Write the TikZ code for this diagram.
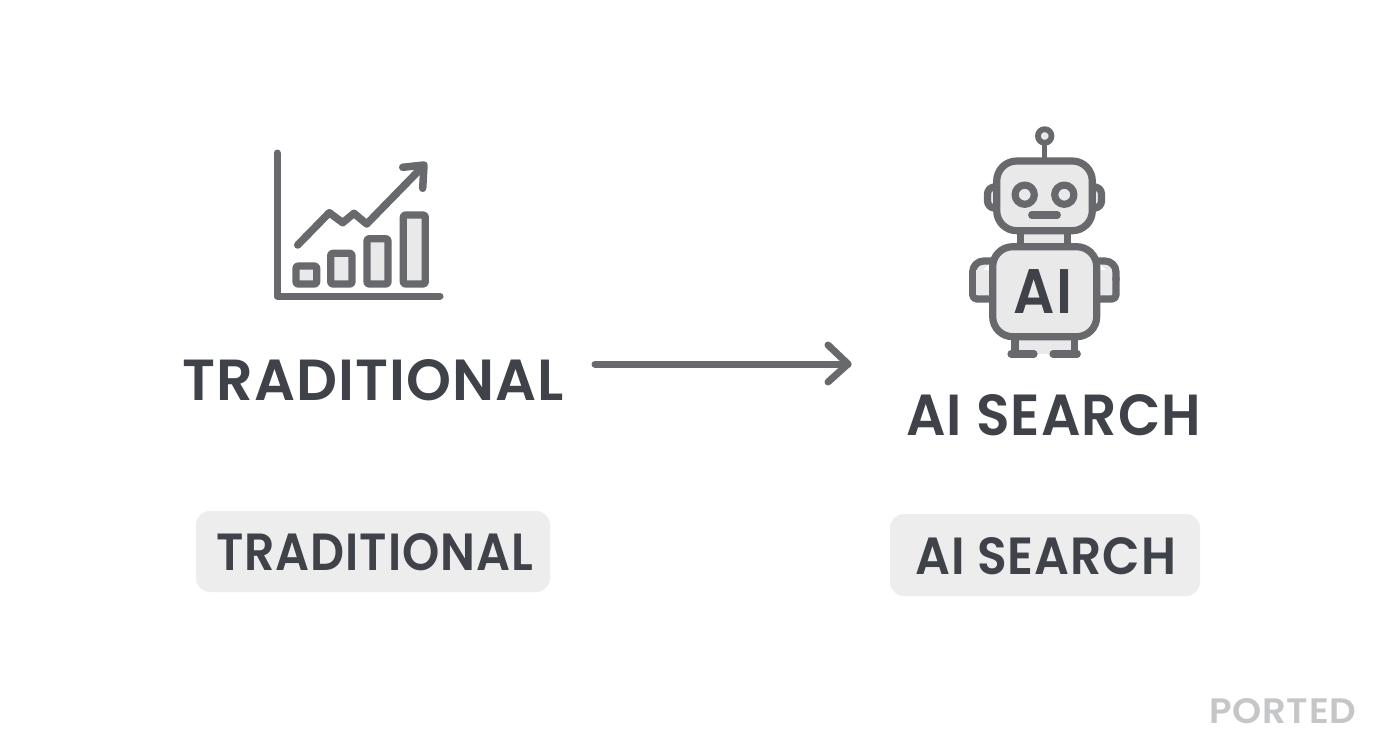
\documentclass[tikz,border=0pt]{standalone}
\usepackage{fontspec}
\usepackage{graphicx}
\newfontfamily\hd[UprightFont={* SemiBold},LetterSpace=2]{Poppins}
\newcommand{\fitt}[3]{\resizebox{#1pt}{#2pt}{\hd #3}}
\definecolor{ink}{HTML}{3F4248}
\definecolor{iconline}{HTML}{67696D}
\definecolor{iconfill}{HTML}{E9E9EA}
\definecolor{pill}{HTML}{EDEDEE}
\definecolor{mark}{HTML}{C4C6C8}
\tikzset{
  lbl/.style={inner sep=0pt,text=ink,anchor=south west},
  pillbox/.style={fill=pill,draw=none,rounded corners=14pt},
  icon/.style={draw=iconline,line width=7.2pt,line cap=round,line join=round},
  iconf/.style={icon,fill=iconfill},
  conn/.style={draw=iconline,line width=7pt,line cap=round,line join=round}
}
\begin{document}
\begin{tikzpicture}[x=1pt,y=-1pt]
\useasboundingbox (0,0) rectangle (1392,752);
\fill[white] (0,0) rectangle (1392,752);
% chart
\draw[icon,line width=7pt] (277,153) -- (277,296) -- (440,296);
\draw[iconf,rounded corners=2pt] (296,266) rectangle (316.7,284);
\draw[iconf,rounded corners=2pt] (330.7,253.3) rectangle (352,284);
\draw[iconf,rounded corners=2pt] (367,238.7) rectangle (388,284);
\draw[iconf,rounded corners=2pt] (403.3,215) rectangle (425.3,284);
\draw[icon,line width=7.5pt] (297.7,245) -- (329.3,212.7) -- (342.7,222.7) -- (354,213.3) -- (366.7,224) -- (423.3,166);
\draw[icon,line width=7.5pt] (402.7,167.3) -- (424,165) -- (422.7,188.3);
% robot
\draw[icon,line width=5.5pt] (1044.7,145) -- (1044.7,159);
\draw[iconf,line width=5.8pt] (1044.7,136) circle (6.8);
\draw[iconf,rounded corners=7pt] (993,187) -- (987.5,187) -- (987.5,208) -- (993,208);
\draw[iconf,rounded corners=7pt] (1096,187) -- (1101.5,187) -- (1101.5,208) -- (1096,208);
\fill[iconfill] (1020.7,228) rectangle (1067.7,248);
\draw[icon,line cap=butt] (1020.7,230) -- (1020.7,247);
\draw[icon,line cap=butt] (1067.7,230) -- (1067.7,247);
\draw[iconf,rounded corners=20pt] (996.7,161) rectangle (1092.3,230.7);
\draw[iconf] (1024.7,194.7) circle (9.6);
\draw[iconf] (1064.3,194.7) circle (9.6);
\draw[icon] (1031.7,215) -- (1057.3,215);
\draw[iconf,rounded corners=11pt] (992,261) -- (972.7,261) -- (972.7,280);
\draw[iconf,rounded corners=4pt] (972.7,278) -- (972.7,299) -- (992,299);
\fill[iconfill] (976.3,270) rectangle (992,295.4);
\draw[iconf,rounded corners=11pt] (1097,261) -- (1116,261) -- (1116,280);
\draw[iconf,rounded corners=4pt] (1116,278) -- (1116,299) -- (1097,299);
\fill[iconfill] (1097,270) rectangle (1112.4,295.4);
\fill[iconfill] (1015,336) rectangle (1074.3,354);
\draw[icon,line cap=butt] (1015,338) -- (1015,354);
\draw[icon,line cap=butt] (1074.3,338) -- (1074.3,354);
\draw[icon] (1011,354) -- (1034,354);
\draw[icon] (1053,354) -- (1077.3,354);
\draw[iconf,rounded corners=20pt] (992.7,246.7) rectangle (1096.7,336.7);
\node[lbl] (robotai) at (1013.5,314) {\fitt{58.5}{44}{AI}};
% connector
\coordinate (arrowstart) at (595,364);
\coordinate (arrowend) at (848,364);
\coordinate (headup) at (828,345);
\coordinate (headdown) at (828,382);
\draw[conn] (arrowstart) -- (arrowend);
\draw[conn] (headup) -- (arrowend) -- (headdown);
% headings
\node[lbl] (tradhead) at (182,401) {\fitt{382}{41}{TRADITIONAL}};
\node[lbl] (aihead) at (906,436) {\fitt{295}{41}{AI SEARCH}};
% pills
\path[pillbox] (196,511) rectangle (550,592);
\path[pillbox] (890,514) rectangle (1200,596);
\node[lbl] (tradpill) at (216,571) {\fitt{317}{37}{TRADITIONAL}};
\node[lbl] (aipill) at (915,575) {\fitt{261}{37}{AI SEARCH}};
\node[lbl,text=mark] (ported) at (1209,724) {\fitt{147}{25}{PORTED}};
\end{tikzpicture}
\end{document}
